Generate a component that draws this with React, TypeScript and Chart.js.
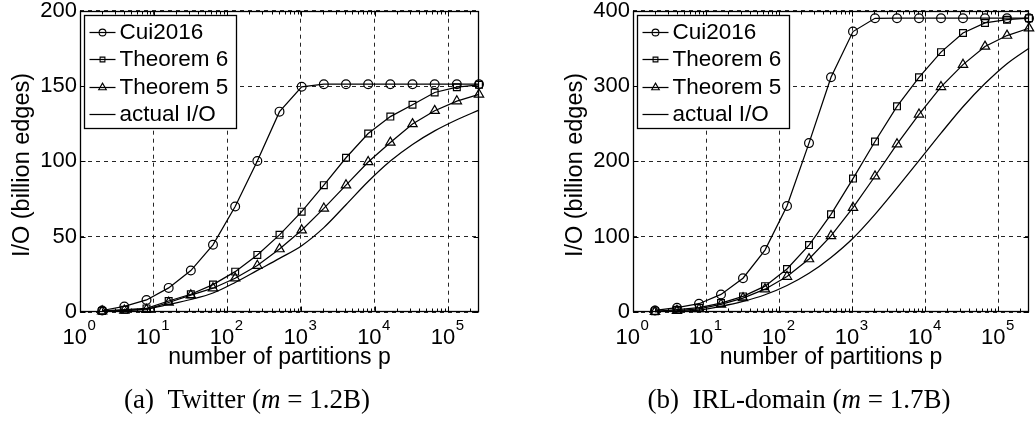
import React, { useEffect, useRef } from 'react';
import { Chart, registerables } from 'chart.js';

Chart.register(...registerables);

const FAMILY = '"Liberation Sans", Arial, Helvetica, sans-serif';

const partitions = [2, 4, 8, 16, 32, 64, 128, 256, 512, 1024, 2048, 4096, 8192, 16384, 32768, 65536, 131072, 262144];
const seriesNames = ['Cui2016', 'Theorem 6', 'Theorem 5', 'actual I/O'];
const xDecades = [1, 10, 100, 1000, 10000, 100000];
const xMin = 1;
const xMax = 262144;

// (a) Twitter
const twitterCui2016 = [1, 3.7, 8, 16, 27.5, 44.6, 70, 100.2, 133, 149.5, 151.2, 151.2, 151.2, 151.2, 151.2, 151.2, 151.2, 151.2];
const twitterTheorem6 = [0.7, 1.5, 2.4, 7.3, 11.8, 18.2, 26.8, 37.9, 51.2, 66.6, 84.2, 102.4, 118.5, 129.7, 137.6, 145.7, 149.2, 150.8];
const twitterTheorem5 = [0.6, 1.1, 1.6, 6.3, 11.2, 15.8, 22.4, 30.8, 41.8, 54.3, 68.8, 84.2, 99.6, 112.5, 124.8, 133.6, 140, 144.4];
const twitterActual = [0.5, 1.0, 2.0, 5.0, 8.3, 12.6, 19.6, 27.6, 35.6, 44, 56, 71.2, 86.6, 100.2, 111.2, 120.2, 127.6, 134];
const twitterYTicks = [0, 50, 100, 150, 200];

// (b) IRL-domain
const irlCui2016 = [2, 5.7, 11, 23.3, 44.8, 82.2, 140.7, 224.2, 311.6, 372.3, 389.9, 390, 390, 390, 390, 390, 390, 390];
const irlTheorem6 = [0.9, 3, 5.7, 11.9, 20.7, 34.3, 57.1, 88.8, 129.7, 177.1, 226.4, 273, 311.6, 345, 370.5, 383.7, 388, 390];
const irlTheorem5 = [0.4, 1.8, 4, 10, 18.5, 30.3, 47, 70.3, 101, 138.5, 180.2, 222.9, 262.4, 298.9, 328.4, 352.5, 367, 376.7];
const irlActual = [0.4, 1.3, 2.6, 7.5, 14, 22.9, 35.2, 51.4, 72.5, 98, 129.7, 164.8, 200.9, 237.4, 272.5, 303.3, 329.7, 350.3];
const irlYTicks = [0, 100, 200, 300, 400];

const PAGE_H = 421;
const PLOT_TOP = 9;
const PLOT_BOTTOM = 312;
const X_AXIS_H = 70;
const GRID = 'rgba(0,0,0,0.85)';
const LINE_W = 1.25;

const markerStyles = ['circle', 'rect', 'triangle', ''];
const markerRadius = [4.4, 4.8, 5.4, 0];
const legendRadius = [3.4, 3.4, 4.4, 0];

function drawMarker(ctx: CanvasRenderingContext2D, style: string, x: number, y: number, r: number) {
  ctx.beginPath();
  if (style === 'circle') {
    ctx.arc(x, y, r, 0, Math.PI * 2);
  } else if (style === 'rect') {
    const s = r * Math.SQRT1_2;
    ctx.rect(x - s, y - s, 2 * s, 2 * s);
  } else if (style === 'triangle') {
    let rad = 0;
    ctx.moveTo(x + Math.sin(rad) * r, y - Math.cos(rad) * r);
    rad += (2 * Math.PI) / 3;
    ctx.lineTo(x + Math.sin(rad) * r, y - Math.cos(rad) * r);
    rad += (2 * Math.PI) / 3;
    ctx.lineTo(x + Math.sin(rad) * r, y - Math.cos(rad) * r);
    ctx.closePath();
  }
  ctx.stroke();
}

type PanelProps = {
  left: number;
  width: number;
  plotLeft: number;
  plotRight: number;
  yTitleBaseX: number;
  yTicks: number[];
  series: number[][];
  caption: React.ReactNode;
  captionCenter: number;
};

function decorPlugin(yTitleBaseX: number) {
  return {
    id: 'decor',
    afterDraw(chart: any) {
      const { ctx, chartArea: a, scales } = chart;
      const xs = scales.x;
      const ys = scales.y;
      ctx.save();
      ctx.strokeStyle = '#000';
      ctx.fillStyle = '#000';
      ctx.lineWidth = 1;
      const L = Math.round(a.left) + 0.5;
      const R = Math.round(a.right) - 0.5;
      const T = Math.round(a.top) + 0.5;
      const B = Math.round(a.bottom) - 0.5;
      const seg = (x1: number, y1: number, x2: number, y2: number) => {
        ctx.beginPath();
        ctx.moveTo(x1, y1);
        ctx.lineTo(x2, y2);
        ctx.stroke();
      };
      // inward ticks on x (major + minor)
      for (let e = 0; e <= 5; e++) {
        for (let m = 1; m <= 9; m++) {
          const v = m * Math.pow(10, e);
          if (v > xs.max) continue;
          const px = Math.round(xs.getPixelForValue(v)) + 0.5;
          const len = m === 1 ? 5 : 3;
          seg(px, B, px, B - len);
          seg(px, T, px, T + len);
        }
      }
      // inward ticks on y
      ys.ticks.forEach((t: any) => {
        const py = Math.round(ys.getPixelForValue(t.value)) + 0.5;
        seg(L, py, L + 5, py);
        seg(R, py, R - 5, py);
      });
      // frame
      ctx.lineWidth = 1.3;
      ctx.strokeRect(L, T, R - L, B - T);

      // x tick labels 10^k
      ctx.textBaseline = 'alphabetic';
      ctx.textAlign = 'left';
      xDecades.forEach((v) => {
        const px = xs.getPixelForValue(v);
        const exp = String(Math.round(Math.log10(v)));
        ctx.font = `22px ${FAMILY}`;
        const bw = ctx.measureText('10').width;
        ctx.font = `15px ${FAMILY}`;
        const ew = ctx.measureText(exp).width;
        const x0 = px - (bw + ew) / 2 - 1;
        ctx.font = `22px ${FAMILY}`;
        ctx.fillText('10', x0, 343.5);
        ctx.font = `15px ${FAMILY}`;
        ctx.fillText(exp, x0 + bw + 0.5, 330);
      });

      // y title
      ctx.save();
      ctx.translate(yTitleBaseX, 165);
      ctx.rotate(-Math.PI / 2);
      ctx.textAlign = 'center';
      ctx.font = `23.5px ${FAMILY}`;
      ctx.fillText('I/O (billion edges)', 0, 0);
      ctx.restore();

      // legend
      const bx = Math.round(a.left) + 4.5;
      const by = Math.round(a.top) + 4.5;
      const bwid = 152;
      const bh = 113;
      ctx.fillStyle = '#fff';
      ctx.fillRect(bx, by, bwid, bh);
      ctx.lineWidth = 1.3;
      ctx.strokeStyle = '#000';
      ctx.strokeRect(bx, by, bwid, bh);
      ctx.fillStyle = '#000';
      ctx.font = `22.5px ${FAMILY}`;
      ctx.textBaseline = 'middle';
      ctx.textAlign = 'left';
      chart.data.datasets.forEach((ds: any, i: number) => {
        const cy = Math.round(by + 16.5 + i * 27.3) + 0.5;
        ctx.lineWidth = LINE_W;
        ctx.strokeStyle = '#000';
        seg(bx + 5, cy, bx + 31, cy);
        const st = markerStyles[i];
        if (st) {
          ctx.lineWidth = 1.1;
          drawMarker(ctx, st, bx + 18, cy, legendRadius[i]);
        }
        ctx.fillStyle = '#000';
        ctx.fillText(ds.label, bx + 35, cy + 0.5);
      });
      ctx.restore();
    },
  };
}

function Panel(props: PanelProps) {
  const ref = useRef<HTMLCanvasElement | null>(null);
  useEffect(() => {
    if (!ref.current) return;
    const datasets = props.series.map((vals, i) => ({
      label: seriesNames[i],
      data: partitions.map((p, j) => ({ x: p, y: vals[j] })),
      borderColor: '#000',
      borderWidth: LINE_W,
      backgroundColor: 'rgba(0,0,0,0)',
      pointStyle: markerStyles[i] || 'circle',
      pointRadius: markerRadius[i],
      pointBorderWidth: 1.2,
      pointBorderColor: '#000',
      pointBackgroundColor: 'rgba(0,0,0,0)',
      cubicInterpolationMode: i === 3 ? 'monotone' : 'default',
      tension: 0,
      clip: false,
    }));
    const yMax = props.yTicks[props.yTicks.length - 1];
    const chart = new Chart(ref.current, {
      type: 'line',
      data: { datasets },
      options: {
        responsive: false,
        animation: false,
        devicePixelRatio: 1,
        layout: {
          padding: {
            left: 0,
            right: props.width - props.plotRight,
            top: PLOT_TOP,
            bottom: PAGE_H - PLOT_BOTTOM - X_AXIS_H,
          },
        },
        plugins: { legend: { display: false }, tooltip: { enabled: false } },
        scales: {
          x: {
            type: 'logarithmic',
            min: xMin,
            max: xMax,
            afterBuildTicks: (s: any) => {
              s.ticks = xDecades.map((v) => ({ value: v }));
            },
            afterFit: (s: any) => {
              s.height = X_AXIS_H;
            },
            ticks: { display: false },
            grid: { color: GRID, lineWidth: 1, drawTicks: false },
            border: { display: false, dash: [4, 4] },
            title: {
              display: true,
              text: 'number of partitions p',
              color: '#000',
              font: { family: FAMILY, size: 23 },
              padding: { top: 0, bottom: 11 },
            },
          },
          y: {
            type: 'linear',
            min: 0,
            max: yMax,
            afterBuildTicks: (s: any) => {
              s.ticks = props.yTicks.map((v) => ({ value: v }));
            },
            afterFit: (s: any) => {
              s.width = props.plotLeft;
            },
            ticks: { color: '#000', font: { family: FAMILY, size: 22, lineHeight: 0.7 }, padding: 3 },
            grid: { color: GRID, lineWidth: 1, drawTicks: false },
            border: { display: false, dash: [4, 4] },
          },
        },
      },
      plugins: [decorPlugin(props.yTitleBaseX)],
    } as any);
    return () => chart.destroy();
  }, []);
  return (
    <div style={{ position: 'absolute', left: props.left, top: 0, width: props.width, height: PAGE_H }}>
      <canvas ref={ref} width={props.width} height={PAGE_H} style={{ width: props.width, height: PAGE_H, display: 'block' }} />
      <div
        style={{
          position: 'absolute',
          left: props.captionCenter - 200,
          width: 400,
          top: 384,
          textAlign: 'center',
          fontFamily: '"Liberation Serif", "Times New Roman", serif',
          fontSize: 27,
          lineHeight: '31px',
          color: '#000',
          whiteSpace: 'nowrap',
        }}
      >
        {props.caption}
      </div>
    </div>
  );
}

export default function App() {
  return (
    <div style={{ position: 'absolute', left: 0, top: 0, width: 1036, height: PAGE_H, background: '#fff', overflow: 'hidden' }}>
      <Panel
        left={0}
        width={516}
        plotLeft={80}
        plotRight={479}
        yTitleBaseX={29}
        yTicks={twitterYTicks}
        series={[twitterCui2016, twitterTheorem6, twitterTheorem5, twitterActual]}
        captionCenter={247}
        caption={
          <span>
            (a)&nbsp;&nbsp;Twitter (<i>m</i>&nbsp;=&nbsp;1.2B)
          </span>
        }
      />
      <Panel
        left={516}
        width={520}
        plotLeft={117}
        plotRight={513}
        yTitleBaseX={66}
        yTicks={irlYTicks}
        series={[irlCui2016, irlTheorem6, irlTheorem5, irlActual]}
        captionCenter={283}
        caption={
          <span>
            (b)&nbsp;&nbsp;IRL-domain (<i>m</i>&nbsp;=&nbsp;1.7B)
          </span>
        }
      />
    </div>
  );
}
